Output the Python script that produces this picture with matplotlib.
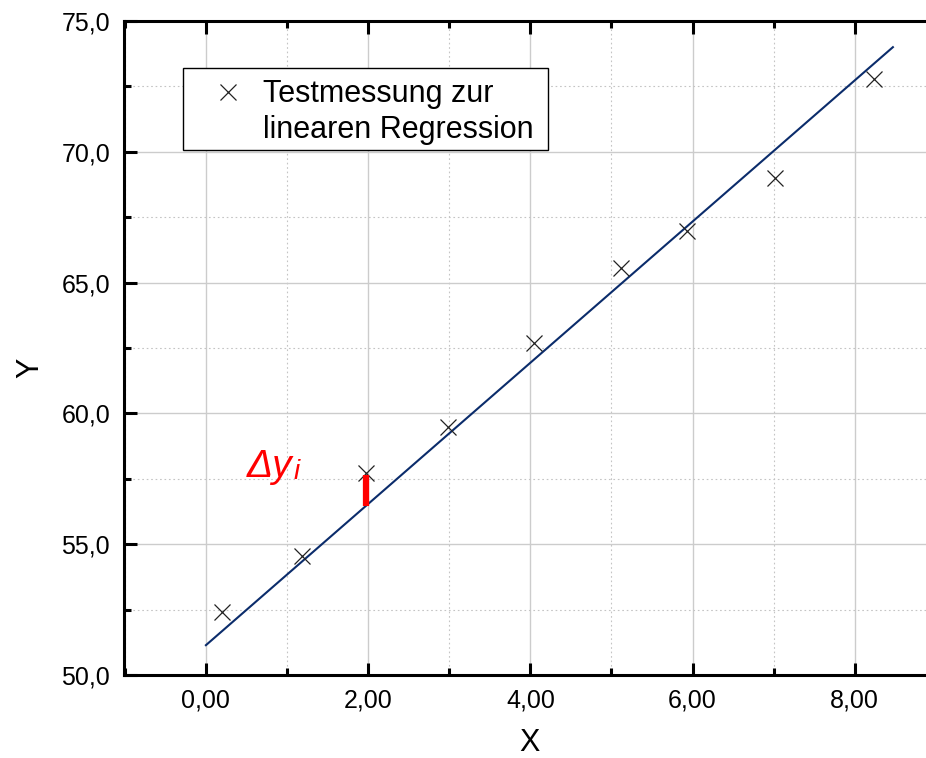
import matplotlib
matplotlib.use("Agg")
import matplotlib.pyplot as plt
from matplotlib.patches import Rectangle
from matplotlib.ticker import MultipleLocator

plt.rcParams['font.family'] = ['Liberation Sans', 'DejaVu Sans']

# Messwerte
x_vals = [0.20, 1.18, 1.97, 2.98, 4.05, 5.12, 5.93, 7.02, 8.24]
y_vals = [52.40, 54.55, 57.71, 59.47, 62.70, 65.57, 66.98, 68.99, 72.78]

# Regressionsgerade (Endpunkte)
fit_x = [0.0, 8.47]
fit_y = [51.14, 74.00]

# Residuum am dritten Punkt
res_x = [1.97, 1.97]
res_y = [56.45, 57.65]

x_ticks = [0, 2, 4, 6, 8]
x_labels = ["0,00", "2,00", "4,00", "6,00", "8,00"]
y_ticks = [50, 55, 60, 65, 70, 75]
y_labels = ["50,0", "55,0", "60,0", "65,0", "70,0", "75,0"]

legend_lines = ["Testmessung zur", "linearen Regression"]

fig = plt.figure(figsize=(9.26, 7.58), dpi=100)
ax = fig.add_axes([124 / 926, 1 - 675 / 758, 805 / 926, 654 / 758])

ax.set_xlim(-1.01, 8.915)
ax.set_ylim(50, 75)

ax.set_xticks(x_ticks)
ax.set_xticklabels(x_labels)
ax.set_yticks(y_ticks)
ax.set_yticklabels(y_labels)
ax.xaxis.set_minor_locator(MultipleLocator(1))
ax.yaxis.set_minor_locator(MultipleLocator(2.5))

ax.grid(True, which="major", color="#cccccc", lw=1.0, ls="-")
ax.grid(True, which="minor", color="#c4c4c4", lw=0.8, ls=(0, (1.5, 2.5)))
ax.set_axisbelow(True)

for s in ax.spines.values():
    s.set_linewidth(2.2)
ax.spines["right"].set_visible(False)

ax.tick_params(which="both", direction="in", top=True, right=False, width=2.2,
               labelsize=18)
ax.tick_params(which="major", length=9, pad=10)
ax.tick_params(which="minor", length=5)

# Gerade, Punkte, Residuum
ax.plot(fit_x, fit_y, color="#0b2c6b", lw=1.5, zorder=3)
ax.plot(x_vals, y_vals, ls="none", marker="x", ms=12, mew=0.9,
        color="#222222", zorder=4)
ax.plot(res_x, res_y, color="red", lw=4.5, solid_capstyle="butt", zorder=5)

# Beschriftung Delta y_i
t_dy = ax.text(0.50, 57.57, "Δy", color="red", fontsize=28, style="italic",
               ha="left", va="baseline")
ax.annotate("i", xy=(1, 0), xycoords=t_dy, xytext=(1, 0),
            textcoords="offset points", color="red", fontsize=20,
            style="italic", ha="left", va="bottom")

ax.set_xlabel("X", fontsize=22)
ax.set_ylabel("Y", fontsize=22)
ax.xaxis.label.set_va("baseline")
ax.yaxis.label.set_va("baseline")
ax.xaxis.set_label_coords(0.504, -0.116)
ax.yaxis.set_label_coords(-0.107, 0.469)

# Legende
ax.add_patch(Rectangle((0.0733, 0.8028), 0.4534, 0.1254, transform=ax.transAxes,
                       facecolor="white", edgecolor="black", lw=1.0, zorder=6))
ax.plot([0.1292], [0.8914], transform=ax.transAxes, ls="none", marker="x",
        ms=12, mew=0.9, color="#222222", zorder=7)
ax.text(0.1727, 0.8766, legend_lines[0], transform=ax.transAxes, fontsize=22,
        va="baseline", ha="left", zorder=7)
ax.text(0.1727, 0.8206, legend_lines[1], transform=ax.transAxes, fontsize=22,
        va="baseline", ha="left", zorder=7)

fig.savefig("out.png", dpi=100)
